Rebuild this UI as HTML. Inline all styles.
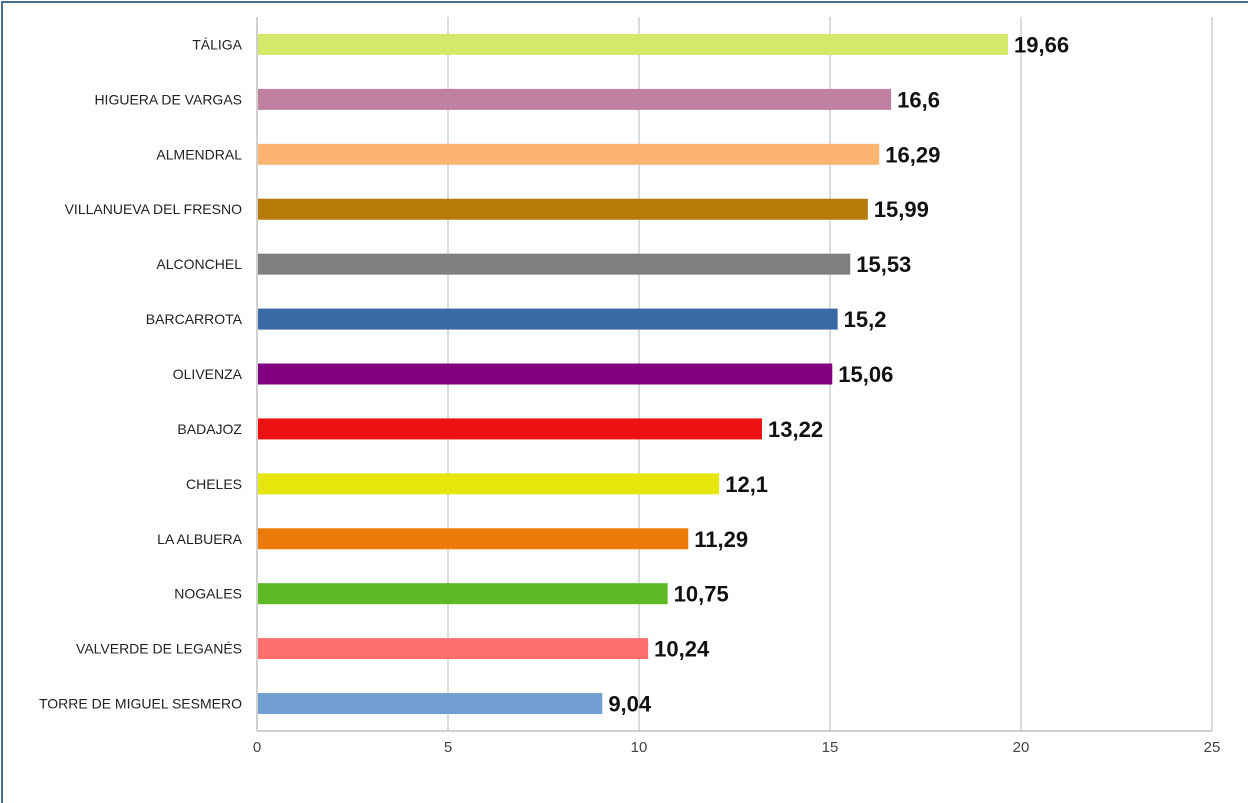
<!DOCTYPE html>
<html><head><meta charset="utf-8"><style>
body{margin:0;width:1248px;height:770px;background:#fff;overflow:hidden;font-family:"Liberation Sans",sans-serif}
#frame{position:absolute;left:1px;top:1px;width:1300px;height:800px;border-left:2px solid #4a6f8f;border-top:2px solid #4a6f8f}
</style></head><body>
<div id="frame"></div>
<svg id="chart" width="1248" height="770" style="position:absolute;left:0;top:0"></svg>
<script>
const categories=["TÁLIGA","HIGUERA DE VARGAS","ALMENDRAL","VILLANUEVA DEL FRESNO","ALCONCHEL","BARCARROTA","OLIVENZA","BADAJOZ","CHELES","LA ALBUERA","NOGALES","VALVERDE DE LEGANÉS","TORRE DE MIGUEL SESMERO"];
const values=[19.66,16.6,16.29,15.99,15.53,15.2,15.06,13.22,12.1,11.29,10.75,10.24,9.04];
const valueLabels=["19,66","16,6","16,29","15,99","15,53","15,2","15,06","13,22","12,1","11,29","10,75","10,24","9,04"];
const colors=["#d4e86a","#c0809f","#fcb473","#b57a08","#7f7f7f","#3a6aa6","#800080","#ee1111","#e6e60d","#ec7a0a","#5db923","#ff6e6e","#719fd2"];
const ticks=[0,5,10,15,20,25];
const svg=document.getElementById('chart');const NS="http://www.w3.org/2000/svg";
const L=257,R=1212,T=17,B=731,max=25;
const x=v=>L+(v/max)*(R-L);
const band=(B-T)/categories.length;
const y=i=>T+band*i+band/2;
function mk(t,a){const e=document.createElementNS(NS,t);for(const k in a)e.setAttribute(k,a[k]);svg.appendChild(e);return e;}
ticks.forEach((t,i)=>{
 const g=mk('line',{x1:x(t),x2:x(t),y1:T,y2:B,stroke:i==0?'#a0a0a0':'#b8b8b8','stroke-width':1});
 
 
 const tl=mk('text',{x:x(t),y:752,'text-anchor':'middle','font-size':15,fill:'#444'});tl.textContent=t;
 
 
});
const ax=mk('line',{x1:L,x2:R,y1:B,y2:B,stroke:'#a0a0a0'});


categories.forEach((c,i)=>{
 const cl=mk('text',{x:242,y:y(i)+5,'text-anchor':'end','font-size':14,fill:'#222'});cl.textContent=c;
 
 
 const r=mk('rect',{x:L+1,y:y(i)-10.5,width:x(values[i])-L-1,height:21,fill:colors[i]});
 
 
 const vl=mk('text',{x:x(values[i])+6,y:y(i)+8,'font-size':22,'font-weight':'bold',fill:'#111'});vl.textContent=valueLabels[i];
 
 
});
</script>
</body></html>
